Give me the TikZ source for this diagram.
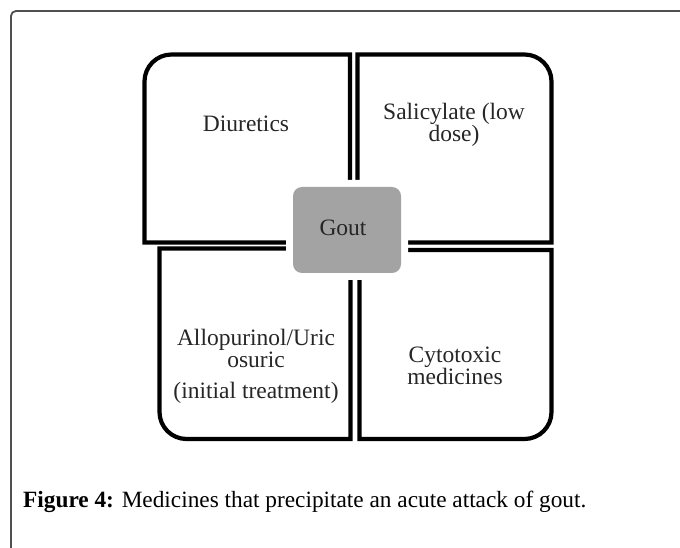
\documentclass[tikz,border=0pt]{standalone}
\usepackage{fontspec}
\setmainfont{Liberation Serif}
\definecolor{goutgray}{RGB}{163,163,163}
\definecolor{framegray}{RGB}{80,80,80}
\begin{document}
\begin{tikzpicture}[x=1pt,y=1pt,
  quad/.style={draw=black,line width=4.2pt,line join=miter},
  boxtext/.style={font=\fontsize{23.5}{22}\selectfont,text=black!85,align=center,inner sep=0pt},
  goutbox/.style={fill=goutgray,rounded corners=9pt,draw=none},
  framestyle/.style={draw=framegray,line width=1.8pt}]
\useasboundingbox (0,0) rectangle (680,547);
% outer frame
\draw[framestyle,rounded corners=5pt] (11,-5) -- (11,536) -- (695,536);
% quadrants
\draw[quad] (350,304.5) -- (144.5,304.5) -- (144.5,465.5) arc[start angle=180,end angle=90,radius=27pt] -- (350,492.5) -- cycle;
\draw[quad] (357.5,304.5) -- (357.5,492.5) -- (524.5,492.5) arc[start angle=90,end angle=0,radius=27pt] -- (551.5,304.5) -- cycle;
\draw[quad] (350.5,298.5) -- (159.5,298.5) -- (159.5,135) arc[start angle=180,end angle=270,radius=27pt] -- (350.5,108) -- cycle;
\draw[quad] (359.5,297) -- (359.5,108) -- (524.5,108) arc[start angle=270,end angle=360,radius=27pt] -- (551.5,297) -- cycle;
% gout box with white margin
\fill[white,rounded corners=14pt] (286,267) rectangle (408,367);
\node[goutbox,minimum width=108pt,minimum height=86pt,inner sep=0pt] (gout) at (347,317) {};
\node[boxtext,anchor=base] (gouttext) at (343,311) {Gout};
% texts (base anchor = last line)
\node[boxtext,anchor=base] (diur) at (246,415.3) {Diuretics};
\node[boxtext,anchor=base] (sal) at (454,405) {Salicylate (low\\dose)};
\node[boxtext,anchor=base] (allo) at (256,149) {Allopurinol/Uric\\osuric\\[9pt](initial treatment)};
\node[boxtext,anchor=base] (cyto) at (455,163) {Cytotoxic\\medicines};
% caption
\node[anchor=base west,inner sep=0pt,font=\fontsize{23.3}{26}\selectfont] (cap) at (23,40) {\textbf{Figure 4:} Medicines that precipitate an acute attack of gout.};
\end{tikzpicture}
\end{document}
